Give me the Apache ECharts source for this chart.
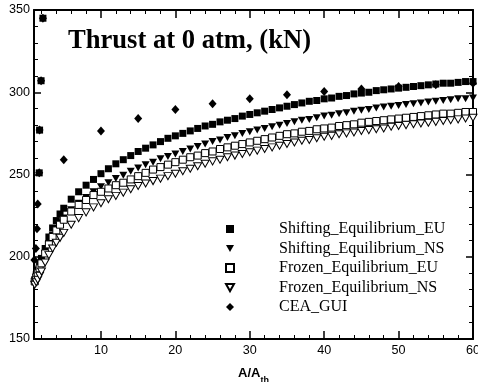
<!DOCTYPE html>
<html><head><meta charset="utf-8">
<script src="https://cdn.jsdelivr.net/npm/echarts@6/dist/echarts.min.js"></script>
<style>html,body{margin:0;padding:0;background:#fff}#c{width:478px;height:382px}</style>
</head><body><div id="c"></div>
<script>
// ---- data ----
const xCurve = [1.1,1.3,1.5,1.75,2,2.5,3,3.5,4,4.5,5,6,7,8,9,10,11,12,13,14,15,16,17,18,19,20,21,22,23,24,25,26,27,28,29,30,31,32,33,34,35,36,37,38,39,40,41,42,43,44,45,46,47,48,49,50,51,52,53,54,55,56,57,58,59,60];
const shiftEU = [186,189,192,195.5,199,205,212,217.5,222,226,229.5,235,239.5,243.5,247,250.5,253.5,256.5,259,261.5,264,266,268,270,272,273.5,275,276.5,278,279.5,280.5,282,283,284,285.5,286.5,287.5,288.5,289.5,290.5,291.5,292.5,293.5,294.5,295,296,296.5,297.5,298,299,299.5,300,301,301.5,302,302.5,303,303.5,304,304.5,305,305.5,305.5,306,306.5,306.5];
const shiftNS = [185,187.5,190,193,196,202,208,213,217,220.5,223.5,228.5,232.5,236,239.5,242.5,245,247.5,249.5,252,254,256,257.5,259.5,261,262.5,264,265.5,267,268.5,270,271,272.5,273.5,275,276,277,278,279,280,281,282,283,283.5,284.5,285.5,286,287,287.5,288.5,289,289.5,290.5,291,291.5,292,292.5,293,293.5,294,294.5,295,295.5,296,296,296.5];
const frozEU = [185,187.5,190,193,196,202,207.5,212,216,219.5,222.5,227.5,231.5,234.5,237.5,239.5,241.5,243.5,245,247,249,251,253,254.5,256,257.5,259,260.5,261.5,263,264,265.5,266.5,267.5,268.5,269.5,270.5,271.5,272.5,273.5,274.5,275,276,276.5,277.5,278,278.5,279.5,280,280.5,281.5,282,282.5,283,283.5,284,284.5,285,285.5,286,286.5,287,287,287.5,288,288];
const frozNS = [183,184.5,186,188.5,191,196.5,201,205,208.5,211.5,214.5,219.5,223.5,227,230,232.5,235,237,239,241,243,244.5,246,247.5,249,250.5,252,253.5,255,256.5,258,259,260.5,261.5,262.5,263.5,264.5,265.5,266.5,267.5,268.5,269.5,270.5,271,272,273,273.5,274.5,275,275.5,276.5,277,277.5,278,279,279.5,280,280.5,281,281.5,282,282.5,283,283.5,284,284.5];
// extra shifting-EU markers at the left edge
const shiftEUEdgeX = [2.2,1.95,1.75,1.7];
const shiftEUEdgeY = [345,307,277,251];
// CEA_GUI points
const ceaX = [2.2,1.95,1.75,1.7,1.5,1.4,1.25,1.05,5,10,15,20,25,30,35,40,45,50,55,60];
const ceaY = [345,307,277,251,232,217,205,198,259,276.5,284,289.5,293,296,298.5,300.5,302,303.5,304.5,305.5];
const seriesNames = ['Shifting_Equilibrium_EU','Shifting_Equilibrium_NS','Frozen_Equilibrium_EU','Frozen_Equilibrium_NS','CEA_GUI'];
const xMajorTicks = [10,20,30,40,50,60];
const xMinorTicks = [2,4,6,8,12,14,16,18,22,24,26,28,32,34,36,38,42,44,46,48,52,54,56,58];
const titleText = 'Thrust at 0 atm, (kN)';

function zip(xs, ys){ return xs.map((x,i)=>[x, ys[i]]); }

const chart = echarts.init(document.getElementById('c'), null, {renderer:'canvas'});
const black = '#000';
const gridRect = {left:34, right:5, top:10, bottom:43, outerBoundsMode:'none', containLabel:false};
const downTri = 'path://M0,0 L10,0 L5,9 Z';

const majorX = (pos, labels) => ({
  type:'value', gridIndex:0, position:pos, min:1, max:60,
  axisLine:{show:true, onZero:false, lineStyle:{color:black, width:2}},
  axisTick:{show:true, inside:true, length:8, customValues:xMajorTicks, lineStyle:{color:black, width:1.5}},
  axisLabel:{show:labels, customValues:xMajorTicks, margin:5, color:black, fontFamily:'Liberation Sans', fontSize:12.6, hideOverlap:false},
  splitLine:{show:false}
});
const minorX = (pos) => ({
  type:'value', gridIndex:1, position:pos, min:1, max:60,
  axisLine:{show:false},
  axisTick:{show:true, inside:true, length:4, customValues:xMinorTicks, lineStyle:{color:black, width:1}},
  axisLabel:{show:false}, splitLine:{show:false}
});
const yAx = (pos, labels) => ({
  type:'value', gridIndex:0, position:pos, min:150, max:350, interval:50,
  axisLine:{show:true, onZero:false, lineStyle:{color:black, width:2}},
  axisTick:{show:true, inside:true, length:7, lineStyle:{color:black, width:1.5}},
  minorTick:{show:true, splitNumber:5, length:4, lineStyle:{color:black, width:1}},
  axisLabel:{show:labels, margin:4, color:black, fontFamily:'Liberation Sans', fontSize:12.6},
  splitLine:{show:false}, minorSplitLine:{show:false}
});

const xb = majorX('bottom', true);
xb.name = '{a|A/A}{b|th}';
xb.nameLocation = 'middle';
xb.nameGap = 22;
xb.nameTextStyle = {rich:{
  a:{fontFamily:'Liberation Sans', fontWeight:'bold', fontSize:13, color:black, lineHeight:14, verticalAlign:'middle'},
  b:{fontFamily:'Liberation Sans', fontWeight:'bold', fontSize:9, color:black, lineHeight:24, verticalAlign:'bottom'}
}};

const option = {
  animation:false,
  backgroundColor:'#fff',
  title:{text:titleText, left:68, top:28, padding:0,
    textStyle:{fontFamily:'Liberation Serif', fontWeight:'bold', fontSize:26.6, color:black}},
  grid:[Object.assign({}, gridRect), Object.assign({}, gridRect)],
  xAxis:[xb, majorX('top', false), minorX('bottom'), minorX('top')],
  yAxis:[yAx('left', true), yAx('right', false),
    {type:'value', gridIndex:1, show:false, min:150, max:350}],
  legend:{orient:'vertical', left:225, top:221, padding:0, itemWidth:8, itemHeight:8, itemGap:3.5,
    textStyle:{fontFamily:'Liberation Serif', fontSize:16, color:black, lineHeight:16, padding:[0,0,0,40]},
    data:seriesNames},
  series:[
    {name:seriesNames[0], type:'scatter', symbol:'rect', symbolSize:7,
     itemStyle:{color:black, opacity:1}, data:zip(xCurve, shiftEU).concat(zip(shiftEUEdgeX, shiftEUEdgeY))},
    {name:seriesNames[1], type:'scatter', symbol:downTri, symbolSize:[8,7],
     itemStyle:{color:black, opacity:1}, data:zip(xCurve, shiftNS)},
    {name:seriesNames[2], type:'scatter', symbol:'rect', symbolSize:7,
     itemStyle:{color:'#fff', borderColor:black, borderWidth:1, opacity:1}, data:zip(xCurve, frozEU)},
    {name:seriesNames[3], type:'scatter', symbol:downTri, symbolSize:[8,7],
     itemStyle:{color:'#fff', borderColor:black, borderWidth:1, opacity:1}, data:zip(xCurve, frozNS)},
    {name:seriesNames[4], type:'scatter', symbol:'diamond', symbolSize:[8,9],
     itemStyle:{color:black, opacity:1}, data:zip(ceaX, ceaY)}
  ]
};
chart.setOption(option);
</script>
</body></html>
